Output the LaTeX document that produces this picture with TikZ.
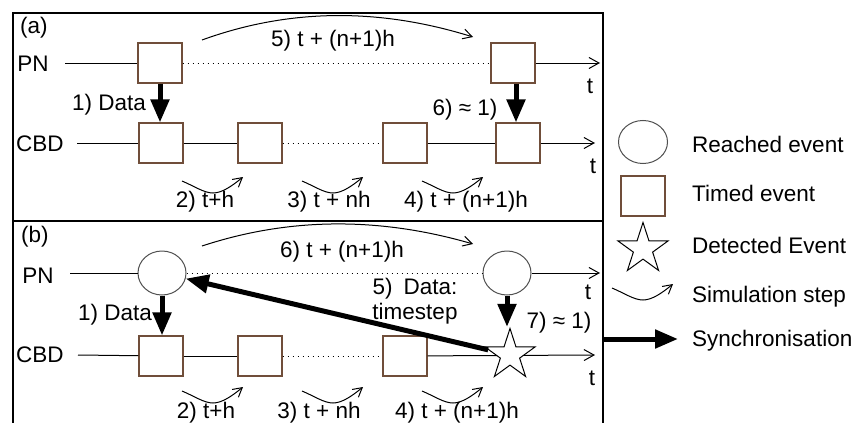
\documentclass[tikz,border=0pt]{standalone}
\usepackage{fontspec}
\setmainfont{Liberation Sans}
\usetikzlibrary{arrows.meta,shapes.geometric}
\definecolor{brownc}{RGB}{112,78,58}
\definecolor{greyc}{RGB}{80,80,80}
\begin{document}
\begin{tikzpicture}[x=1pt,y=-1pt,
  font=\fontsize{22.5}{25}\selectfont,
  frame/.style={line width=1.2pt},
  tline/.style={line width=1pt},
  dotline/.style={line width=1pt, dash pattern=on 1.4pt off 3.6pt},
  timed/.style={draw=brownc, line width=1.1pt, fill=white, minimum width=44pt, minimum height=40pt, inner sep=0pt},
  reached/.style={ellipse, draw=greyc, line width=1pt, fill=white, minimum width=48pt, minimum height=44pt, inner sep=0pt},
  detected/.style={star, star points=5, star point ratio=2.618, draw, line width=1pt, fill=white, minimum size=53pt, inner sep=0pt},
  simstep/.style={line width=1pt, -{Straight Barb[length=9pt,width=10pt]}},
  axis/.style={line width=1pt, -{Straight Barb[length=10pt,width=11pt]}},
  sync/.style={line width=5pt, -{Triangle[length=23pt,width=18pt]}},
  lbl/.style={inner sep=0pt},
  stepcurve/.pic={\draw[simstep] (0,0) .. controls (12,5) and (22,12) .. (31,12) .. controls (40,12) and (50,5) .. (61,-4);},
]
\useasboundingbox (0,0) rectangle (868,423);
% frames
\draw[frame] (13,13) rectangle (603,221);
\draw[frame] (13,428) -- (13,221) -- (603,221) -- (603,428);

% ---------- panel (a)
\node[lbl, anchor=west] (la) at (20,28) {(a)};
\node[lbl] (pna) at (33,64) {PN};
\node[lbl] (cbda) at (40,144) {CBD};
\coordinate (pnas) at (65,63);
\coordinate (pnae) at (600,63);
\node[timed] (pa1) at (160,63) {};
\node[timed] (pa2) at (513,63) {};
\draw[tline] (pnas) -- (pa1);
\draw[dotline] (pa1) -- (pa2);
\draw[axis] (pa2) -- (pnae);
\node[lbl] (ta1) at (590,86) {t};

\coordinate (cbas) at (77,143);
\coordinate (cbae) at (595,143);
\node[timed] (ca1) at (161,143) {};
\node[timed] (ca2) at (260,143) {};
\node[timed] (ca3) at (405,143) {};
\node[timed] (ca4) at (518,143) {};
\draw[tline] (cbas) -- (ca1);
\draw[tline] (ca1) -- (ca2);
\draw[dotline] (ca2) -- (ca3);
\draw[tline] (ca3) -- (ca4);
\draw[axis] (ca4) -- (cbae);
\node[lbl] (ta2) at (593,166) {t};

\draw[sync] (pa1.south) -- (pa1.south |- ca1.north);
\draw[sync] ([xshift=3pt]pa2.south) -- ([xshift=3pt]pa2.south |- ca4.north);
\node[lbl] (da) at (109,105) {1) Data};
\node[lbl] (aa) at (465,110) {6) ≈ 1)};

\coordinate (arcas) at (202,40);
\coordinate (arcae) at (473,37);
\draw[simstep] (arcas) .. controls (290,8) and (380,8) .. (arcae);
\node[lbl] (s5a) at (333,41) {5) t + (n+1)h};

\pic at (182,181) {stepcurve};
\pic at (302,181) {stepcurve};
\pic at (422,181) {stepcurve};
\node[lbl] (s2a) at (205,202) {2) t+h};
\node[lbl] (s3a) at (329,202) {3) t + nh};
\node[lbl] (s4a) at (466,202) {4) t + (n+1)h};

% ---------- panel (b)
\node[lbl, anchor=west] (lb) at (21,237) {(b)};
\node[lbl] (pnb) at (38,276) {PN};
\node[lbl] (cbdb) at (40,355) {CBD};
\coordinate (pnbs) at (70,273);
\coordinate (pnbe) at (600,273);
\node[reached] (e1) at (162,273) {};
\node[reached] (e2) at (507,273) {};
\draw[tline] (pnbs) -- (e1);
\draw[dotline] (e1) -- (e2);
\draw[axis] (e2) -- (pnbe);
\node[lbl] (tb1) at (588,292) {t};

\coordinate (cbbs) at (78,355);
\coordinate (cbbe) at (595,355);
\node[timed] (cb1) at (161,356) {};
\node[timed] (cb2) at (260,356) {};
\node[timed] (cb3) at (405,356) {};
\draw[tline] (cbbs) -- (cb1);
\draw[tline] (cb1) -- (cb2);
\draw[dotline] (cb2) -- (cb3);
\draw[axis] (cb3) -- (cbbe);
\node[detected] (st) at (510,355) {};
\node[lbl] (tb2) at (592,378) {t};

\draw[sync] (e1.south) -- (e1.south |- cb1.north);
\draw[sync] (e2.south) -- (e2.south |- st.north);
\draw[sync] (st) -- (e1);
\node[lbl] (db) at (115,315) {1) Data};
\node[lbl] (ab) at (559,323) {7) ≈ 1)};
\node[lbl, align=center] (ts) at (415,301) {5)\hspace{11pt}Data:\\timestep};

\coordinate (arcbs) at (202,246);
\coordinate (arcbe) at (473,244);
\draw[simstep] (arcbs) .. controls (290,217) and (380,217) .. (arcbe);
\node[lbl] (s6b) at (342,252) {6) t + (n+1)h};

\pic at (182,391) {stepcurve};
\pic at (302,391) {stepcurve};
\pic at (422,391) {stepcurve};
\node[lbl] (s2b) at (206,413) {2) t+h};
\node[lbl] (s3b) at (319,413) {3) t + nh};
\node[lbl] (s4b) at (457,413) {4) t + (n+1)h};

% ---------- legend
\node[reached, minimum width=49pt, minimum height=43pt] (lg1) at (643,142) {};
\node[timed] (lg2) at (643,196) {};
\node[detected] (lg3) at (643,249) {};
\pic at (612,288) {stepcurve};
\coordinate (lgs) at (604,339);
\coordinate (lge) at (678,339);
\draw[sync] (lgs) -- (lge);
\node[lbl, anchor=west] (lt1) at (692,144) {Reached event};
\node[lbl, anchor=west] (lt2) at (692,193) {Timed event};
\node[lbl, anchor=west] (lt3) at (692,245) {Detected Event};
\node[lbl, anchor=west] (lt4) at (692,297) {Simulation step};
\node[lbl, anchor=west] (lt5) at (692,341) {Synchronisation};
\end{tikzpicture}
\end{document}
